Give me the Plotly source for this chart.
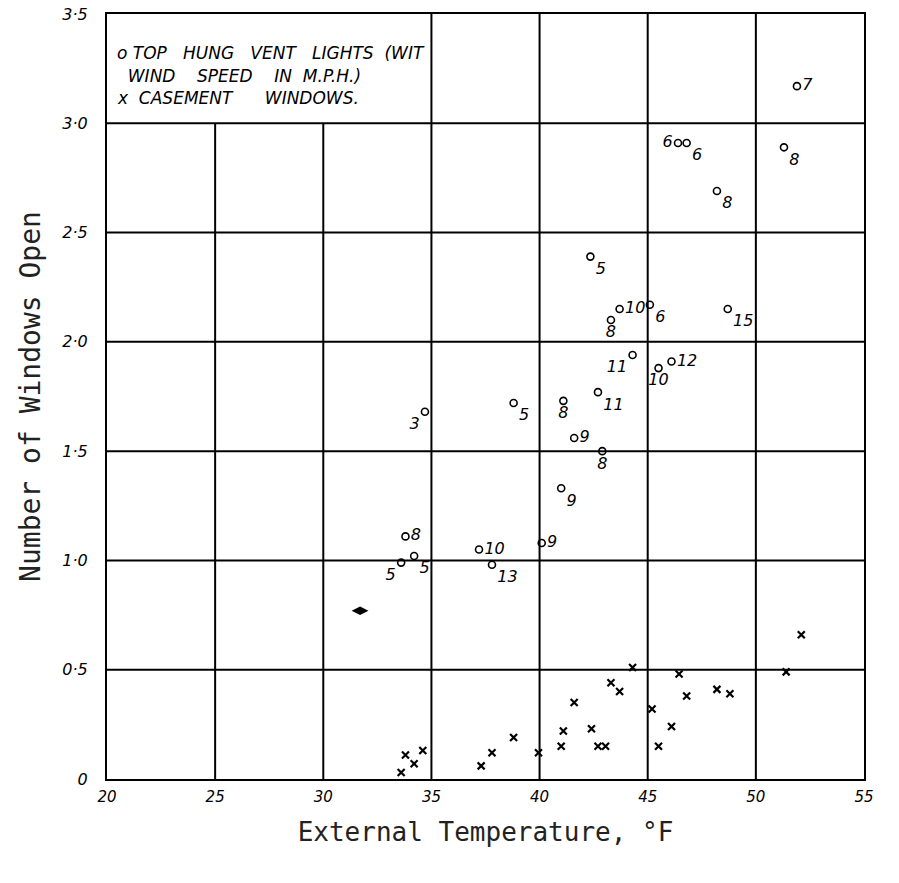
import plotly.graph_objects as go

# ---- data ----
# top hung vent lights (circles) with wind speed (m.p.h.) labels
vent_temp = [51.9, 46.4, 46.8, 51.3, 48.2, 42.35, 43.7, 43.3, 45.1, 48.7,
             44.3, 45.5, 46.1, 42.7, 41.1, 38.8, 34.7, 41.6, 42.9, 41.0,
             33.8, 34.2, 33.6, 37.2, 37.8, 40.1]
vent_open = [3.17, 2.91, 2.91, 2.89, 2.69, 2.39, 2.15, 2.10, 2.17, 2.15,
             1.94, 1.88, 1.91, 1.77, 1.73, 1.72, 1.68, 1.56, 1.50, 1.33,
             1.11, 1.02, 0.99, 1.05, 0.98, 1.08]
vent_wind = ["7", "6", "6", "8", "8", "5", "10", "8", "6", "15",
             "11", "10", "12", "11", "8", "5", "3", "9", "8", "9",
             "8", "5", "5", "10", "13", "9"]

# casement windows (crosses)
case_temp = [52.1, 51.4, 44.3, 46.45, 43.3, 43.7, 46.8, 48.2, 48.8, 45.2,
             46.1, 41.6, 41.1, 42.4, 41.0, 42.7, 43.05, 45.5, 39.95, 38.8,
             37.8, 37.3, 34.6, 33.8, 34.2, 33.6]
case_open = [0.66, 0.49, 0.51, 0.48, 0.44, 0.40, 0.38, 0.41, 0.39, 0.32,
             0.24, 0.35, 0.22, 0.23, 0.15, 0.15, 0.15, 0.15, 0.12, 0.19,
             0.12, 0.06, 0.13, 0.11, 0.07, 0.03]

# ink blot
blot_temp = [31.7]
blot_open = [0.77]

x_ticks = [20, 25, 30, 35, 40, 45, 50, 55]
x_tick_text = ["20", "25", "30", "35", "40", "45", "50", "55"]
y_ticks = [0, 0.5, 1.0, 1.5, 2.0, 2.5, 3.0, 3.5]
y_tick_text = ["0", "0·5", "1·0", "1·5", "2·0", "2·5", "3·0", "3·5"]

legend_lines = ["o TOP   HUNG   VENT   LIGHTS  (WIT",
                "  WIND    SPEED    IN  M.P.H.)",
                "x  CASEMENT      WINDOWS."]

# ---- styles (label placement) ----
label_pos = ["middle right", "middle left", "bottom right", "bottom right", "bottom right",
             "bottom right", "middle right", "bottom center", "bottom right", "bottom right",
             "bottom left", "bottom center", "middle right", "bottom right", "bottom center",
             "bottom right", "bottom left", "middle right", "bottom center", "bottom right",
             "middle right", "bottom right", "bottom left", "middle right", "bottom right",
             "middle right"]

hand = "DejaVu Sans"
fig = go.Figure()

fig.add_trace(go.Scatter(
    x=vent_temp, y=vent_open, mode="markers+text", text=vent_wind,
    textposition=label_pos,
    textfont=dict(family=hand, size=16, color="black", style="italic"),
    marker=dict(symbol="circle-open", size=7, color="black", line=dict(width=1.6)),
    showlegend=False, cliponaxis=False))

fig.add_trace(go.Scatter(
    x=case_temp, y=case_open, mode="markers",
    marker=dict(symbol="x-thin-open", size=7, color="black", line=dict(width=2.2)),
    showlegend=False))

fig.add_trace(go.Scatter(
    x=blot_temp, y=blot_open, mode="markers",
    marker=dict(symbol="diamond-wide", size=12, color="black"),
    showlegend=False))

# grid drawn as in the hand-ruled original (top-left cell merged for the key)
shapes = []
for xv in x_ticks[1:-1]:
    top = 3.0 if xv < 35 else 3.5
    shapes.append(dict(type="line", xref="x", yref="y", x0=xv, x1=xv, y0=0, y1=top,
                       line=dict(color="black", width=2), layer="below"))
for yv in y_ticks[1:-1]:
    shapes.append(dict(type="line", xref="x", yref="y", x0=x_ticks[0], x1=x_ticks[-1],
                       y0=yv, y1=yv, line=dict(color="black", width=2), layer="below"))

annotations = []
for i, line in enumerate(legend_lines):
    annotations.append(dict(x=20.35, y=3.32 - i * 0.103, xref="x", yref="y",
                            text=line, showarrow=False, xanchor="left", yanchor="middle",
                            font=dict(family=hand, size=17, color="black", style="italic")))

fig.update_layout(
    width=899, height=883,
    margin=dict(l=107, r=35, t=14, b=104, autoexpand=False),
    paper_bgcolor="white", plot_bgcolor="white",
    shapes=shapes, annotations=annotations,
    xaxis=dict(range=[20, 55], tickvals=x_ticks, ticktext=x_tick_text, automargin=False,
               showgrid=False, zeroline=False, showline=True, linecolor="black",
               linewidth=2, mirror=True, ticks="", ticklabelstandoff=3,
               tickfont=dict(family=hand, size=15, color="black", style="italic"),
               title=dict(text="External Temperature, °F", standoff=18,
                          font=dict(family="DejaVu Sans Mono", size=26, color="#222"))),
    yaxis=dict(range=[0, 3.5], tickvals=y_ticks, ticktext=y_tick_text, automargin=False,
               showgrid=False, zeroline=False, showline=True, linecolor="black",
               linewidth=2, mirror=True, ticks="", ticklabelstandoff=14,
               tickfont=dict(family=hand, size=16, color="black", style="italic"),
               title=dict(text="Number of Windows Open", standoff=14,
                          font=dict(family="DejaVu Sans Mono", size=28, color="#222"))),
)

fig.write_html("out.html", config={"displayModeBar": False},
               post_script="document.body.style.margin='0px';")
